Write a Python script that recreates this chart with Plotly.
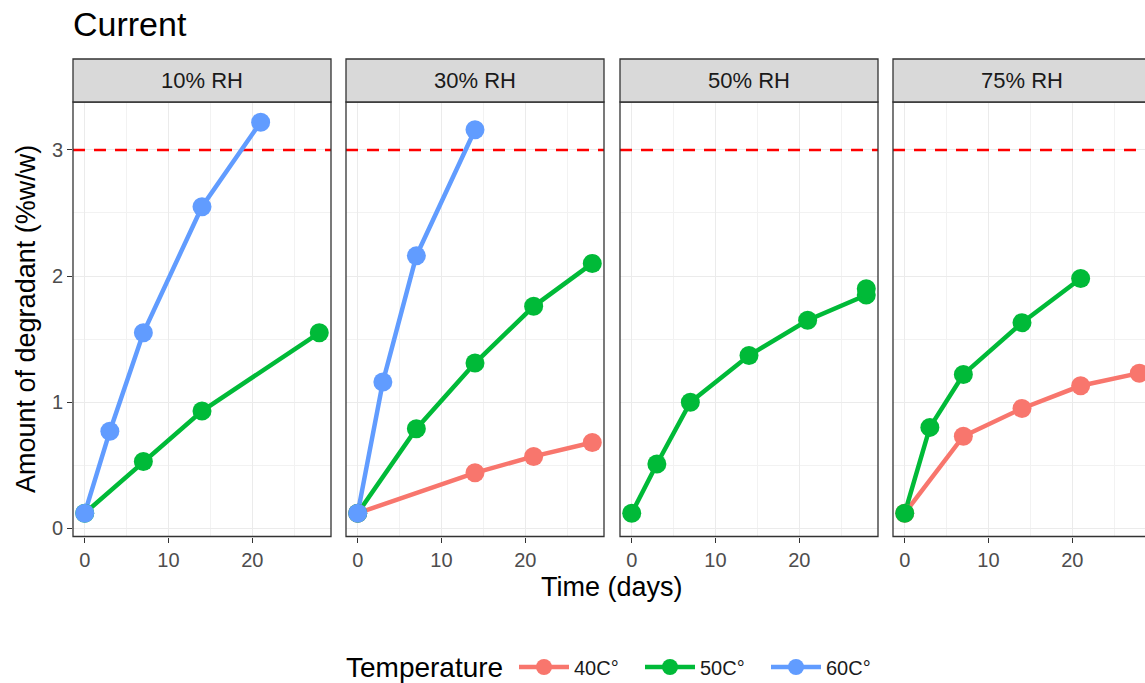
import plotly.graph_objects as go

# ---------------- data ----------------
PANELS = ["10% RH", "30% RH", "50% RH", "75% RH"]
TEMPS = ["40C°", "50C°", "60C°"]
COLORS = {"40C°": "#F8766D", "50C°": "#00BA38", "60C°": "#619CFF"}
THRESHOLD = 3

days_10_50 = [0, 7, 14, 28]
amt_10_50 = [0.12, 0.53, 0.93, 1.55]
days_10_60 = [0, 3, 7, 14, 21]
amt_10_60 = [0.12, 0.77, 1.55, 2.55, 3.22]

days_30_40 = [0, 14, 21, 28]
amt_30_40 = [0.12, 0.44, 0.57, 0.68]
days_30_50 = [0, 7, 14, 21, 28]
amt_30_50 = [0.12, 0.79, 1.31, 1.76, 2.10]
days_30_60 = [0, 3, 7, 14]
amt_30_60 = [0.12, 1.16, 2.16, 3.16]

days_50_50 = [0, 3, 7, 14, 21, 28, 28]
amt_50_50 = [0.12, 0.51, 1.00, 1.37, 1.65, 1.85, 1.90]

days_75_40 = [0, 7, 14, 21, 28]
amt_75_40 = [0.12, 0.73, 0.95, 1.13, 1.23]
days_75_50 = [0, 3, 7, 14, 21]
amt_75_50 = [0.12, 0.80, 1.22, 1.63, 1.98]

SERIES = [
    (0, "50C°", days_10_50, amt_10_50),
    (0, "60C°", days_10_60, amt_10_60),
    (1, "40C°", days_30_40, amt_30_40),
    (1, "50C°", days_30_50, amt_30_50),
    (1, "60C°", days_30_60, amt_30_60),
    (2, "50C°", days_50_50, amt_50_50),
    (3, "40C°", days_75_40, amt_75_40),
    (3, "50C°", days_75_50, amt_75_50),
]

# ---------------- geometry ----------------
W, H = 1145, 683
FONT = "Liberation Sans, Arial, sans-serif"


def px_x(p):
    return p / W


def px_y(p):
    return 1 - p / H


PANEL_X = [(73, 331), (346, 604), (620, 878), (893, 1151)]
STRIP_TOP, PANEL_TOP, PANEL_BOT = 59, 102, 536.5
XR = [-1.4, 29.4]
YR = [-0.065, 3.38]

fig = go.Figure()

LINE_W = 4.5
MARK_S = 19

# threshold dashed line in every panel
for p in range(len(PANELS)):
    sfx = "" if p == 0 else str(p + 1)
    fig.add_trace(go.Scatter(
        x=XR, y=[THRESHOLD, THRESHOLD], mode="lines",
        line=dict(color="#FF0000", width=2.5, dash="12px,9px"),
        xaxis="x" + sfx, yaxis="y" + sfx, showlegend=False, hoverinfo="skip",
    ))

# lines first, then points (ggplot-like layering)
for mode in ["lines", "markers"]:
    for tval in TEMPS:
        for (p, t, xs, ys) in SERIES:
            if t != tval:
                continue
            sfx = "" if p == 0 else str(p + 1)
            fig.add_trace(go.Scatter(
                x=xs, y=ys, mode=mode,
                line=dict(color=COLORS[t], width=LINE_W),
                marker=dict(color=COLORS[t], size=MARK_S),
                xaxis="x" + sfx, yaxis="y" + sfx,
                showlegend=False, hoverinfo="x+y",
                legendgroup=t,
            ))

# legend entries
for t in TEMPS:
    fig.add_trace(go.Scatter(
        x=[None], y=[None], mode="lines+markers", name=t,
        line=dict(color=COLORS[t], width=LINE_W),
        marker=dict(color=COLORS[t], size=MARK_S),
        legendgroup=t, showlegend=True,
    ))

layout = dict(
    width=W, height=H,
    margin=dict(l=0, r=0, t=0, b=0, autoexpand=False),
    paper_bgcolor="white", plot_bgcolor="white",
    font=dict(family=FONT, color="#1A1A1A"),
    showlegend=True,
    legend=dict(
        orientation="h", x=514 / W, xanchor="left",
        y=px_y(667), yanchor="middle",
        font=dict(size=20, color="#1A1A1A", family=FONT),
        bgcolor="rgba(0,0,0,0)", itemwidth=50,
        entrywidth=61, entrywidthmode="pixels",
        tracegroupgap=0,
    ),
)

shapes = []
annotations = []
for i, (x0, x1) in enumerate(PANEL_X):
    sfx = "" if i == 0 else str(i + 1)
    dom_right = min(x1, W)
    xr = list(XR)
    if x1 > W:
        xr[1] = XR[0] + (XR[1] - XR[0]) * (W - x0) / (x1 - x0)
    layout["xaxis" + sfx] = dict(
        domain=[px_x(x0), px_x(dom_right)], range=xr, anchor="y" + sfx,
        tick0=0, dtick=10, showgrid=True, gridcolor="#EBEBEB", gridwidth=1.4,
        minor=dict(dtick=5, tick0=0, showgrid=True, gridcolor="#F2F2F2", gridwidth=0.8),
        ticks="outside", ticklen=5, tickwidth=1.1, tickcolor="#333333",
        tickfont=dict(size=20, color="#4D4D4D", family=FONT),
        showline=False, zeroline=False, fixedrange=True, automargin=False,
    )
    layout["yaxis" + sfx] = dict(
        domain=[px_y(PANEL_BOT), px_y(PANEL_TOP)], range=YR, anchor="x" + sfx,
        tick0=0, dtick=1, showgrid=True, gridcolor="#EBEBEB", gridwidth=1.4,
        minor=dict(dtick=0.5, tick0=0, showgrid=True, gridcolor="#F2F2F2", gridwidth=0.8),
        ticks="outside" if i == 0 else "", ticklen=5, tickwidth=1.1, tickcolor="#333333",
        showticklabels=(i == 0),
        tickfont=dict(size=20, color="#4D4D4D", family=FONT),
        showline=False, zeroline=False, fixedrange=True, automargin=False,
    )
    # panel border
    shapes.append(dict(
        type="rect", xref="paper", yref="paper",
        x0=px_x(x0), x1=px_x(x1), y0=px_y(PANEL_BOT), y1=px_y(PANEL_TOP),
        line=dict(color="#333333", width=1.3), fillcolor="rgba(0,0,0,0)", layer="above",
    ))
    # strip
    shapes.append(dict(
        type="rect", xref="paper", yref="paper",
        x0=px_x(x0), x1=px_x(x1), y0=px_y(PANEL_TOP), y1=px_y(STRIP_TOP),
        line=dict(color="#333333", width=1.3), fillcolor="#D9D9D9", layer="above",
    ))
    annotations.append(dict(
        text=PANELS[i], xref="paper", yref="paper",
        x=px_x((x0 + x1) / 2), y=px_y((STRIP_TOP + PANEL_TOP) / 2),
        xanchor="center", yanchor="middle", showarrow=False,
        font=dict(size=22, color="#1A1A1A", family=FONT),
    ))

annotations.append(dict(
    text="Current", xref="paper", yref="paper", x=px_x(71), y=px_y(24),
    xanchor="left", yanchor="middle", showarrow=False,
    font=dict(size=34, color="#000000", family=FONT),
))
annotations.append(dict(
    text="Time (days)", xref="paper", yref="paper", x=px_x(612), y=px_y(587),
    xanchor="center", yanchor="middle", showarrow=False,
    font=dict(size=27, color="#000000", family=FONT),
))
annotations.append(dict(
    text="Amount of degradant (%w/w)", xref="paper", yref="paper", x=px_x(26), y=px_y(319),
    xanchor="center", yanchor="middle", showarrow=False, textangle=-90,
    font=dict(size=27, color="#000000", family=FONT),
))
annotations.append(dict(
    text="Temperature", xref="paper", yref="paper", x=px_x(344), y=px_y(667),
    xanchor="left", yanchor="middle", showarrow=False,
    font=dict(size=28, color="#000000", family=FONT),
))

layout["shapes"] = shapes
layout["annotations"] = annotations
fig.update_layout(**layout)

fig.write_html("out.html")
